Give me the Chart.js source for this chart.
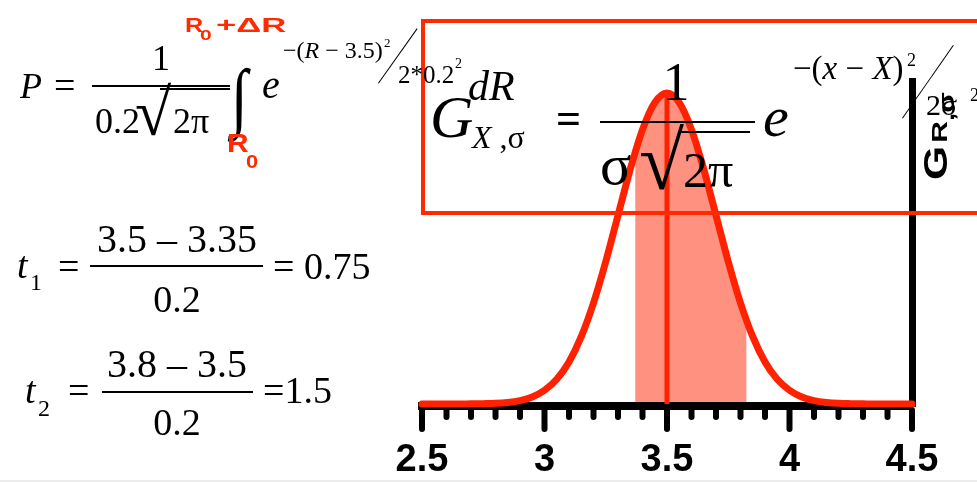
<!DOCTYPE html>
<html>
<head>
<meta charset="utf-8">
<script src="https://cdn.jsdelivr.net/npm/chart.js@4.4.1/dist/chart.umd.min.js"></script>
<style>
  body { margin: 0; background: #fff; }
  #slide { position: relative; width: 977px; height: 482px; overflow: hidden; background: #fff; }
  #plot { position: absolute; left: 0; top: 0; }
  .t { position: absolute; white-space: nowrap; line-height: 1; color: #000;
       font-family: 'Liberation Serif', 'Times New Roman', serif; }
  .sans { font-family: 'Liberation Sans', Arial, sans-serif; font-weight: bold; }
  .red { color: #ff2a00; }
  .rule { position: absolute; background: #000; }
  #box { position: absolute; left: 421px; top: 19px; width: 600px; height: 196px;
         border: 4px solid #ff2a00; box-sizing: border-box; }
  #floor { position: absolute; left: 0; top: 480px; width: 977px; height: 2px; background: #ececec; }
</style>
</head>
<body>
<div id="slide">
  <canvas id="plot" width="977" height="482"></canvas>
  <div id="box"></div>
  <div id="floor"></div>
</div>
<script>
// gaussian R distribution, mean 3.5, sigma 0.2
const rValues = [2.5, 2.55, 2.6, 2.65, 2.7, 2.75, 2.8, 2.85, 2.9, 2.95, 3.0,
  3.05, 3.1, 3.15, 3.2, 3.25, 3.3, 3.35, 3.4, 3.45, 3.5,
  3.55, 3.6, 3.65, 3.7, 3.75, 3.8, 3.85, 3.9, 3.95, 4.0,
  4.05, 4.1, 4.15, 4.2, 4.25, 4.3, 4.35, 4.4, 4.45, 4.5];
const density = [0, 0, 0, 0, 0.001, 0.002, 0.004, 0.010, 0.022, 0.045, 0.088,
  0.159, 0.270, 0.432, 0.648, 0.913, 1.210, 1.506, 1.760, 1.933, 1.995,
  1.933, 1.760, 1.506, 1.210, 0.913, 0.648, 0.432, 0.270, 0.159, 0.088,
  0.045, 0.022, 0.010, 0.004, 0.002, 0.001, 0, 0, 0, 0];

// shaded probability band
const bandR = [3.37, 3.4, 3.45, 3.5, 3.55, 3.6, 3.65, 3.7, 3.75, 3.8, 3.825];
const bandDensity = [1.615, 1.760, 1.933, 1.995, 1.933, 1.760, 1.506, 1.210, 0.913, 0.648, 0.533];

const meanR = 3.5;
const peakDensity = 1.995;

const majorTicks = [2.5, 3, 3.5, 4, 4.5];
const tickLabels = ['2.5', '3', '3.5', '4', '4.5'];

const RED = '#ff2200';

const isMajor = (v) => majorTicks.some(m => Math.abs(m - v) < 1e-6);

const tickMarks = {
  id: 'tickMarks',
  beforeDatasetsDraw(chart) {
    const xs = chart.scales.x;
    const c = chart.ctx;
    c.save();
    c.strokeStyle = '#000';
    c.lineWidth = 6;
    c.lineCap = 'round';
    xs.ticks.forEach(t => {
      const px = xs.getPixelForValue(t.value);
      c.beginPath();
      c.moveTo(px, xs.top + 4);
      c.lineTo(px, xs.top + (isMajor(t.value) ? 23 : 11));
      c.stroke();
    });
    c.restore();
  }
};

const toPoints = (xs, ys) => xs.map((x, i) => ({ x, y: ys[i] }));

new Chart(document.getElementById('plot'), {
  type: 'line',
  data: {
    datasets: [
      {
        data: toPoints(rValues, density),
        borderColor: RED,
        borderWidth: 7,
        borderCapStyle: 'round',
        borderJoinStyle: 'round',
        cubicInterpolationMode: 'monotone',
        pointRadius: 0,
        fill: false,
        clip: false,
        order: 0
      },
      {
        data: [{ x: meanR, y: 0 }, { x: meanR, y: peakDensity }],
        borderColor: RED,
        borderWidth: 5,
        pointRadius: 0,
        fill: false,
        clip: false,
        order: 1
      },
      {
        data: toPoints(bandR, bandDensity),
        borderWidth: 0,
        borderColor: 'rgba(0,0,0,0)',
        backgroundColor: '#ff9180',
        cubicInterpolationMode: 'monotone',
        pointRadius: 0,
        fill: { value: 0.012 },
        order: 2
      }
    ]
  },
  options: {
    responsive: false,
    animation: false,
    events: [],
    layout: { padding: { left: 422, top: 81, right: 45, bottom: 6 } },
    plugins: {
      legend: { display: false },
      tooltip: { enabled: false }
    },
    scales: {
      x: {
        type: 'linear',
        min: 2.5,
        max: 4.5,
        afterFit: (s) => { s.height = 70; },
        grid: {
          drawOnChartArea: false,
          tickLength: 26,
          tickColor: 'rgba(0,0,0,0)'
        },
        border: { display: true, color: '#000', width: 8 },
        ticks: {
          stepSize: 0.1,
          autoSkip: false,
          maxRotation: 0,
          minRotation: 0,
          padding: 6,
          color: '#000',
          font: { family: 'Liberation Sans', size: 38, weight: 'bold' },
          callback: (v) => {
            const i = majorTicks.findIndex(m => Math.abs(m - v) < 1e-6);
            return i >= 0 ? tickLabels[i] : '';
          }
        }
      },
      y: {
        position: 'right',
        min: -0.013,
        max: 2.072,
        afterFit: (s) => { s.width = 20; },
        grid: { drawOnChartArea: false, drawTicks: false },
        border: { display: true, color: '#000', width: 7 },
        ticks: { display: false }
      }
    }
  },
  plugins: [tickMarks]
});

// equation text laid out on top of the plot
const slide = document.getElementById('slide');

function txt(html, x, base, size, opts = {}) {
  const el = document.createElement('div');
  el.className = 't' + (opts.cls ? ' ' + opts.cls : '');
  el.innerHTML = html;
  const asc = opts.cls && opts.cls.includes('sans') ? 0.8465 : 0.8375;
  el.style.fontSize = size + 'px';
  el.style.top = (base - asc * size) + 'px';
  el.style.left = x + 'px';
  let tf = '';
  if (opts.center) tf += 'translateX(-50%) ';
  if (opts.sx) tf += `scaleX(${opts.sx})`;
  if (tf) {
    el.style.transform = tf;
    el.style.transformOrigin = opts.center ? '50% 0' : `0 ${asc * 100}%`;
  }
  if (opts.bold) el.style.fontWeight = 'bold';
  slide.appendChild(el);
  return el;
}

function rule(x1, y, x2, h) {
  const el = document.createElement('div');
  el.className = 'rule';
  Object.assign(el.style, { left: x1 + 'px', top: y + 'px', width: (x2 - x1) + 'px', height: h + 'px' });
  slide.appendChild(el);
}

function slash(x1, y1, x2, y2) {
  const len = Math.hypot(x2 - x1, y2 - y1);
  const ang = Math.atan2(y2 - y1, x2 - x1);
  const el = document.createElement('div');
  el.className = 'rule';
  Object.assign(el.style, {
    left: x1 + 'px', top: y1 + 'px', width: len + 'px', height: '1px',
    transformOrigin: '0 0', transform: `rotate(${ang}rad)`
  });
  slide.appendChild(el);
}

// P = 1/(0.2 sqrt(2pi)) * integral
txt('<i>P</i>', 20, 98, 36);
txt('=', 54, 98, 38);
txt('1', 161, 70, 36, { center: true });
rule(92, 85, 230, 2);
txt('0.2', 95, 133, 36);
txt('√', 135, 135, 66);
rule(160, 88, 230, 2);
txt('2π', 173, 133, 36);
txt('∫', 231, 122, 76, { sx: 0.8 });
txt('<i>e</i>', 262, 98, 40);
txt('−(<i>R</i> − 3.5)', 283, 58, 24);
txt('2', 384, 47, 13);
slash(378, 83, 417, 28);
txt('2*0.2', 398, 83, 25);
txt('2', 455, 69, 14);
txt('<i>dR</i>', 468, 100, 42);
txt('R', 185, 32, 21, { cls: 'sans red', sx: 1.2 });
txt('0', 200, 40, 15, { cls: 'sans red', sx: 1.4 });
txt('+ΔR', 216, 32, 21, { cls: 'sans red', sx: 1.65 });
txt('R', 227, 152, 26, { cls: 'sans red', sx: 1.15 });
txt('0', 246, 168, 19, { cls: 'sans red', sx: 1.15 });

// G_{X,sigma} gaussian
txt('<i>G</i>', 430, 137, 60);
txt('<i>X</i> ,σ', 472, 148, 32);
txt('=', 556, 134, 44, { bold: true });
txt('1', 676, 100, 54, { center: true });
rule(600, 121, 755, 2);
txt('σ', 600, 185, 58);
txt('√', 639, 190, 82);
rule(678, 131, 750, 2);
txt('2π', 683, 187, 50);
txt('<i>e</i>', 763, 137, 58);
txt('−(<i>x</i> − <i>X</i>)', 793, 80, 33);
txt('2', 907, 66, 18);
slash(902, 118, 953, 45);
txt('2σ', 926, 115, 30);
txt('2', 970, 101, 18);

// rotated axis label
const yl = document.createElement('div');
yl.className = 't sans';
yl.innerHTML = '<span style="font-size:44px">G</span><span style="font-size:30px;margin-left:3px">R</span>'
  + '<span style="font-size:30px;position:relative;top:9px">,σ</span>';
Object.assign(yl.style, {
  fontSize: '44px', left: '919px', top: '180px',
  transformOrigin: '0 0', transform: 'rotate(-90deg) scale(1, 0.75)'
});
slide.appendChild(yl);

// t1, t2
txt('<i>t</i>', 17, 278, 38);
txt('1', 30, 290, 24);
txt('=', 58, 279, 38);
txt('3.5 – 3.35', 177, 252, 40, { center: true });
rule(90, 265, 263, 2);
txt('0.2', 177, 312, 38, { center: true });
txt('= 0.75', 273, 279, 38);

txt('<i>t</i>', 25, 403, 38);
txt('2', 38, 416, 24);
txt('=', 68, 403, 38);
txt('3.8 – 3.5', 177, 377, 40, { center: true });
rule(102, 391, 253, 2);
txt('0.2', 177, 435, 38, { center: true });
txt('=1.5', 263, 403, 38);
</script>
</body>
</html>
